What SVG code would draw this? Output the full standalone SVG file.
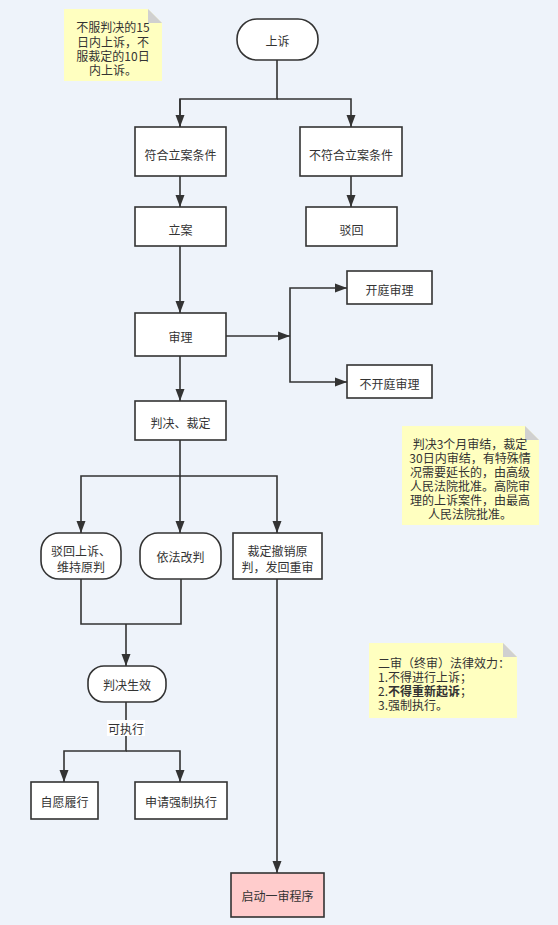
<svg xmlns="http://www.w3.org/2000/svg" width="558" height="925" viewBox="0 0 558 925">
<style>
.bg{fill:#eef3fa}
.n{fill:#ffffff;stroke:#333333;stroke-width:1.6}
.t{font-family:"Noto Sans CJK SC","Liberation Sans",sans-serif;font-size:12px;fill:#333333;text-anchor:middle;dominant-baseline:central}
.tl{font-family:"Noto Sans CJK SC","Liberation Sans",sans-serif;font-size:12px;fill:#333333;dominant-baseline:central}
.note{fill:#ffffc0}
.fold{fill:#d0d0d0}
.c{fill:none;stroke:#333333;stroke-width:1.6}
.a{marker-end:url(#arr)}
</style>
<defs>
<marker id="arr" markerUnits="userSpaceOnUse" markerWidth="12" markerHeight="10" viewBox="0 0 12 10" refX="12" refY="5" orient="auto">
<path d="M0,0.5 L12,5 L0,9.5 z" fill="#333333"/>
</marker>
</defs>
<rect class="bg" x="0" y="0" width="558" height="925"/>

<g id="connectors">
<path class="c" d="M277,60 V99 H180 V127"/>
<path class="c a" d="M180,99 V127"/>
<path class="c a" d="M277,99 H351 V127"/>
<path class="c a" d="M180,176 V207"/>
<path class="c a" d="M351,176 V207"/>
<path class="c a" d="M180,246 V313"/>
<path class="c a" d="M226,336 H290"/>
<path class="c a" d="M290,336 V288 H347"/>
<path class="c a" d="M290,336 V382 H347"/>
<path class="c a" d="M180,356 V401"/>
<path class="c a" d="M180,440 V476 H81 V533"/>
<path class="c a" d="M180,476 V533"/>
<path class="c a" d="M180,476 H277 V533"/>
<path class="c" d="M81,579 V624 H181 V579"/>
<path class="c a" d="M126,624 V666"/>
<path class="c a" d="M277,579 V873"/>
<path class="c a" d="M126,702 V751 H64 V782"/>
<path class="c a" d="M126,751 H180 V782"/>
<rect x="107" y="720" width="38" height="16" fill="#ffffff"/>
<text class="t" x="126" y="728">可执行</text>
</g>

<g id="note1">
<path class="note" d="M64,9 H148 L162,23 V81 H64 z"/>
<path class="fold" d="M148,9 L162,23 H148 z"/>
<text class="t" x="113" y="26">不服判决的15</text>
<text class="t" x="113" y="41">日内上诉，不</text>
<text class="t" x="113" y="55">服裁定的10日</text>
<text class="t" x="113" y="69">内上诉。</text>
</g>

<g id="n-shangsu">
<rect class="n" x="237" y="19" width="81" height="41" rx="20" ry="20"/>
<text class="t" x="277.5" y="40">上诉</text>
</g>
<g id="n-fuhe">
<rect class="n" x="135" y="127" width="91" height="49"/>
<text class="t" x="180.5" y="154">符合立案条件</text>
</g>
<g id="n-bufuhe">
<rect class="n" x="300" y="127" width="102" height="49"/>
<text class="t" x="351" y="154">不符合立案条件</text>
</g>
<g id="n-lian">
<rect class="n" x="135" y="207" width="91" height="39"/>
<text class="t" x="180.5" y="229">立案</text>
</g>
<g id="n-bohui">
<rect class="n" x="306" y="207" width="91" height="39"/>
<text class="t" x="351.5" y="229">驳回</text>
</g>
<g id="n-shenli">
<rect class="n" x="135" y="313" width="91" height="43"/>
<text class="t" x="180.5" y="336">审理</text>
</g>
<g id="n-kaiting">
<rect class="n" x="347" y="271" width="85" height="33"/>
<text class="t" x="389.5" y="289">开庭审理</text>
</g>
<g id="n-bukaiting">
<rect class="n" x="347" y="365" width="85" height="33"/>
<text class="t" x="389.5" y="383">不开庭审理</text>
</g>
<g id="n-panjue">
<rect class="n" x="135" y="401" width="91" height="39"/>
<text class="t" x="180.5" y="422">判决、裁定</text>
</g>

<g id="note2">
<path class="note" d="M402,426 H525 L539,440 V525 H402 z"/>
<path class="fold" d="M525,426 L539,440 H525 z"/>
<text class="t" x="470" y="443">判决3个月审结，裁定</text>
<text class="t" x="470" y="457">30日内审结，有特殊情</text>
<text class="t" x="470" y="471">况需要延长的，由高级</text>
<text class="t" x="470" y="485">人民法院批准。高院审</text>
<text class="t" x="470" y="499">理的上诉案件，由最高</text>
<text class="t" x="470" y="513">人民法院批准。</text>
</g>

<g id="n-weichi">
<rect class="n" x="41" y="533" width="80" height="46" rx="18" ry="18"/>
<text class="t" x="81" y="550">驳回上诉、</text>
<text class="t" x="81" y="566">维持原判</text>
</g>
<g id="n-gaipan">
<rect class="n" x="140" y="533" width="81" height="46" rx="18" ry="18"/>
<text class="t" x="180.5" y="556">依法改判</text>
</g>
<g id="n-fahui">
<rect class="n" x="233" y="533" width="89" height="46"/>
<text class="t" x="277.5" y="550">裁定撤销原</text>
<text class="t" x="277.5" y="566">判，发回重审</text>
</g>

<g id="note3">
<path class="note" d="M369,643 H503 L517,657 V718 H369 z"/>
<path class="fold" d="M503,643 L517,657 H503 z"/>
<text class="tl" x="378" y="662">二审（终审）法律效力：</text>
<text class="tl" x="378" y="676">1.不得进行上诉；</text>
<text class="tl" x="378" y="690">2.<tspan font-weight="bold">不得重新起诉</tspan>；</text>
<text class="tl" x="378" y="704">3.强制执行。</text>
</g>

<g id="n-shengxiao">
<rect class="n" x="88" y="666" width="78" height="36" rx="16" ry="16"/>
<text class="t" x="127" y="684">判决生效</text>
</g>
<g id="n-ziyuan">
<rect class="n" x="31" y="782" width="67" height="37"/>
<text class="t" x="64.5" y="801">自愿履行</text>
</g>
<g id="n-qiangzhi">
<rect class="n" x="135" y="782" width="92" height="37"/>
<text class="t" x="181" y="801">申请强制执行</text>
</g>
<g id="n-yishen">
<rect x="231" y="873" width="93" height="44" fill="#ffcccc" stroke="#333333" stroke-width="1.6"/>
<text class="t" x="277.5" y="895">启动一审程序</text>
</g>
</svg>
